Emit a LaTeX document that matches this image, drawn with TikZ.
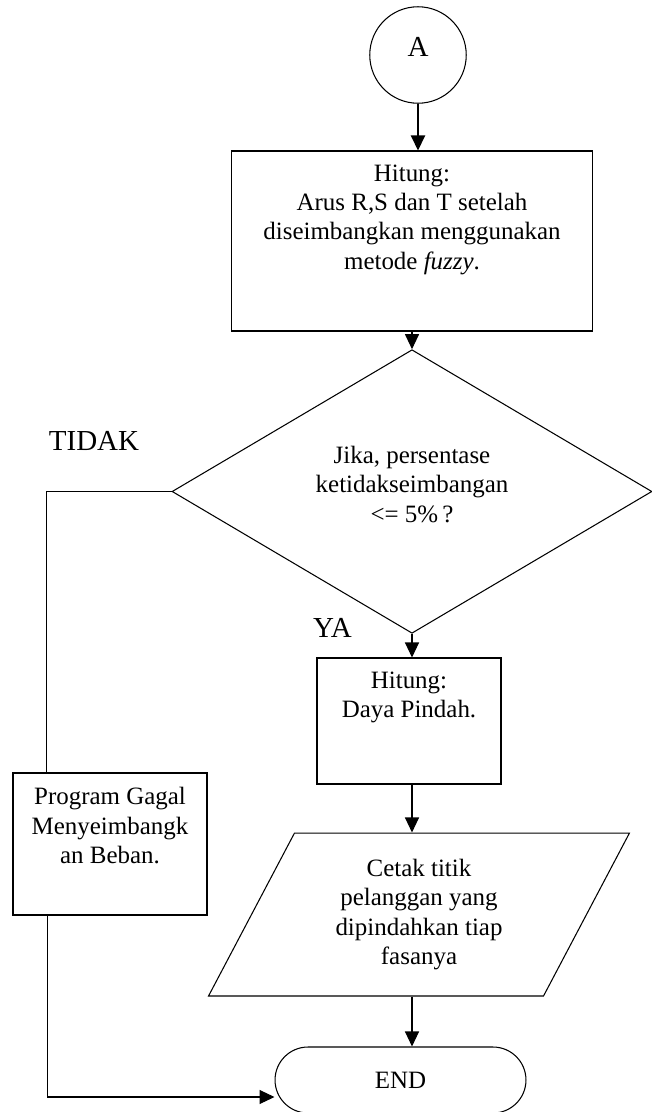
\documentclass[tikz,border=0pt]{standalone}
\usepackage{fontspec}
\setmainfont{Liberation Serif}
\usetikzlibrary{arrows.meta,shapes.geometric,shapes.misc}

\begin{document}
\begin{tikzpicture}[>={Triangle[length=0.3cm,width=0.28cm]}, x=0.02cm, y=-0.02cm,
  every node/.style={font=\fontsize{14.2pt}{16.7pt}\selectfont},
  box/.style={draw, line width=0.6pt, align=center, inner sep=0pt},
  lbl/.style={font=\fontsize{16.5pt}{19pt}\selectfont, inner sep=0pt},
  garis/.style={line width=0.6pt}]
  \useasboundingbox (0,0) rectangle (652,1112);
  % kolom utama
  \node[box, lbl, circle, minimum size=1.93cm, text depth=0.34cm] (A) at (418,55) {A};
  \node[box, minimum width=7.24cm, minimum height=3.6cm, text depth=0.96cm] (hitung) at (412,241)
    {Hitung:\\ Arus R,S dan T setelah\\ diseimbangkan menggunakan\\ metode \textit{fuzzy}.};
  \node[box, diamond, minimum width=9.6cm, minimum height=4.46cm, text depth=0.3cm] (cek) at (412,491.5)
    {Jika, persentase\\ ketidakseimbangan\\ <= 5\%\,?};
  \node[box, minimum width=3.68cm, minimum height=2.52cm, text depth=1.04cm] (daya) at (409,721)
    {Hitung:\\ Daya Pindah.};
  \node[box, trapezium, trapezium left angle=62.5, trapezium right angle=117.5, trapezium stretches=true,
    minimum width=8.44cm, minimum height=3.26cm] (cetak) at (419,914.5)
    {Cetak titik\\ pelanggan yang\\ dipindahkan tiap\\ fasanya};
  \node[box, rounded rectangle, minimum width=5.02cm, minimum height=1.32cm] (selesai) at (400.5,1080) {END};
  % cabang kiri
  \node[box, minimum width=3.88cm, minimum height=2.84cm, text depth=0.74cm] (gagal) at (110,844)
    {Program Gagal\\ Menyeimbangk\\ an Beban.};
  \node[lbl] (tidak) at (94,440.5) {TIDAK};
  \node[lbl] (ya) at (332.5,627.5) {YA};

  \draw[line width=1.2pt, ->] (A.south) -- (A.south |- hitung.north);
  \draw[garis, ->] (hitung.south) -- (cek.north);
  \draw[garis, ->] (cek.south) -- (cek.south |- daya.north);
  \draw[garis, ->] (cek.south |- daya.south) -- (cek.south |- cetak.north);
  \draw[garis, ->] (cek.south |- cetak.south) -- (cek.south |- selesai.north);
  \draw[garis] (cek.west) -| ([xshift=0.68cm]gagal.north west);
  \draw[garis, ->] ([xshift=0.7cm]gagal.south west) |- ([yshift=-0.34cm]selesai.west);
\end{tikzpicture}
\end{document}
